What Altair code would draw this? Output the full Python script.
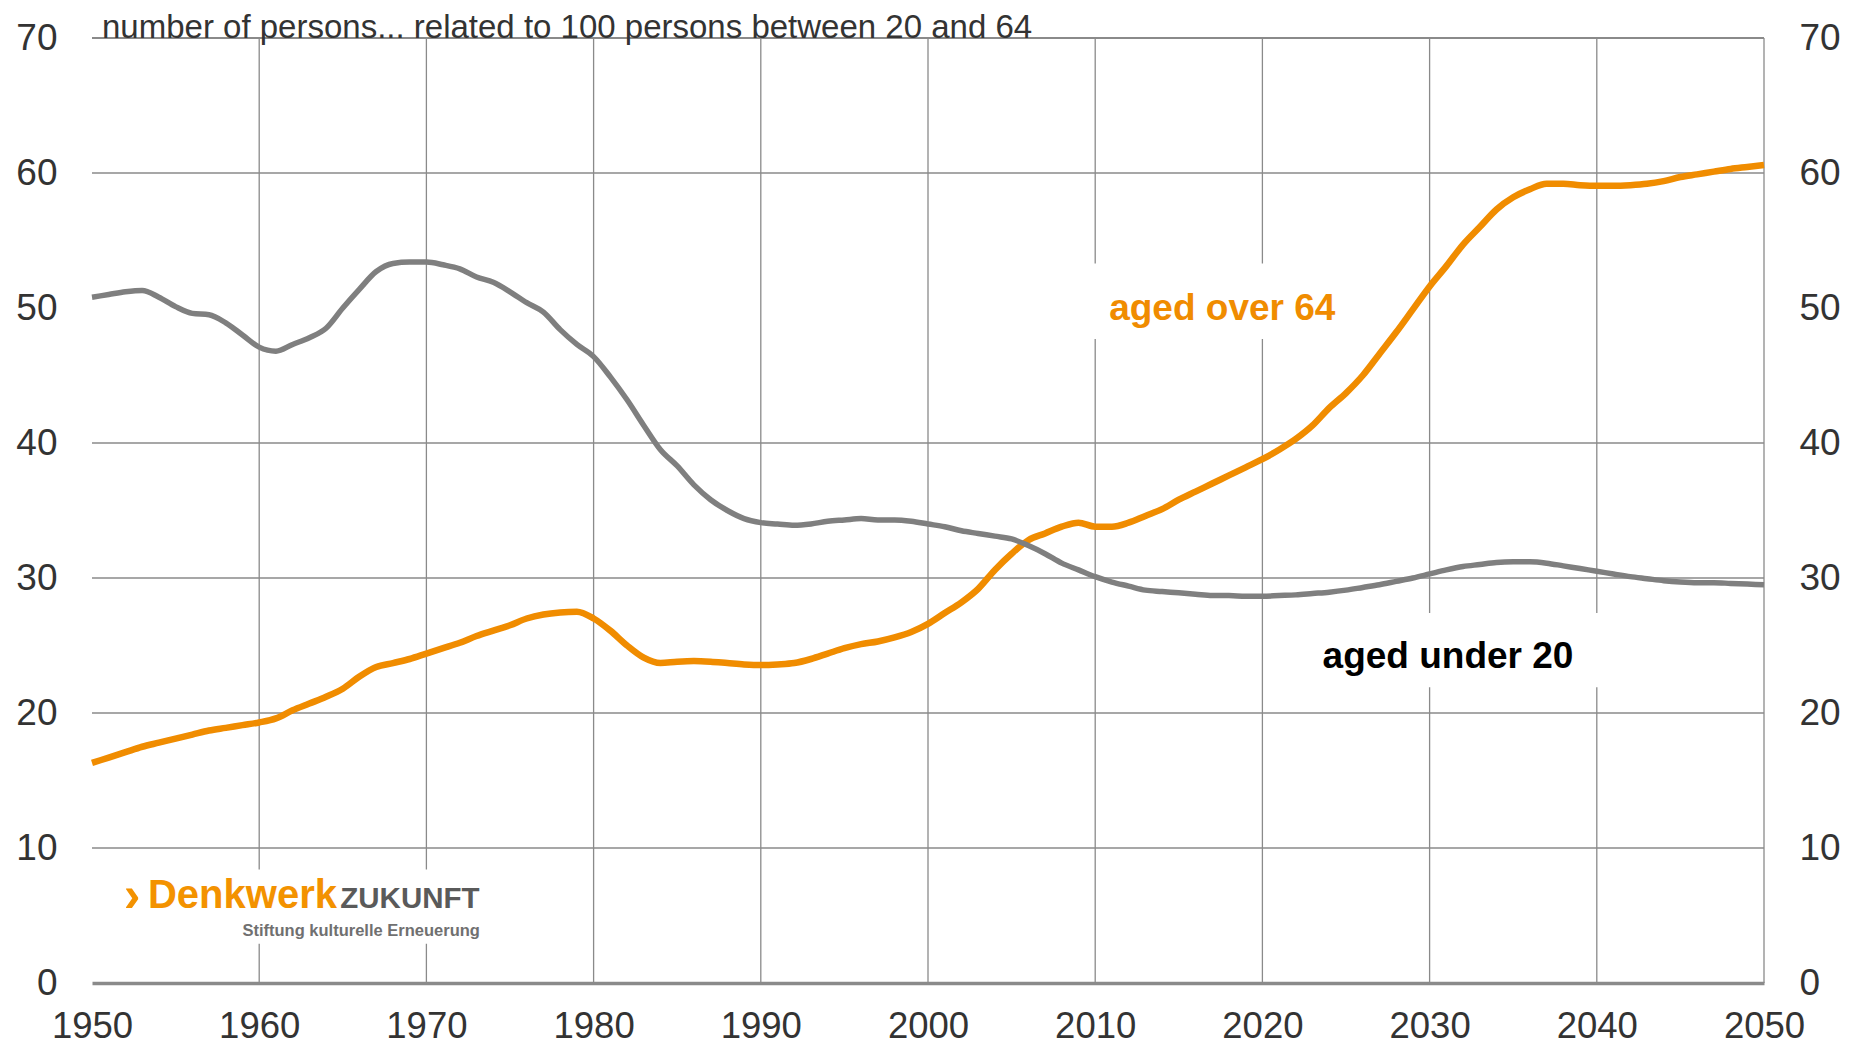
import altair as alt
import pandas as pd

# ---------------- data ----------------
years = list(range(1950, 2051))

aged_under_20 = [
    50.8, 51.0, 51.2, 51.3, 50.8, 50.1, 49.6, 49.5, 48.9, 48.0,   # 1950-1959
    47.1, 46.8, 47.3, 47.8, 48.5, 50.0, 51.4, 52.7, 53.3, 53.4,   # 1960-1969
    53.4, 53.2, 52.9, 52.3, 51.9, 51.2, 50.4, 49.7, 48.4, 47.3,   # 1970-1979
    46.4, 44.9, 43.2, 41.3, 39.5, 38.3, 36.9, 35.8, 35.0, 34.4,   # 1980-1989
    34.1, 34.0, 33.9, 34.0, 34.2, 34.3, 34.4, 34.3, 34.3, 34.2,   # 1990-1999
    34.0, 33.8, 33.5, 33.3, 33.1, 32.9, 32.4, 31.8, 31.1, 30.6,   # 2000-2009
    30.1, 29.7, 29.4, 29.1, 29.0, 28.9, 28.8, 28.7, 28.7, 28.65,  # 2010-2019
    28.65, 28.7, 28.75, 28.85, 28.95, 29.1, 29.3, 29.5, 29.75, 30.0,  # 2020-2029
    30.3, 30.6, 30.85, 31.0, 31.15, 31.2, 31.2, 31.1, 30.9, 30.7,  # 2030-2039
    30.5, 30.3, 30.1, 29.95, 29.8, 29.7, 29.65, 29.65, 29.6, 29.55,  # 2040-2049
    29.5,                                                          # 2050
]

aged_over_64 = [
    16.3, 16.7, 17.1, 17.5, 17.8, 18.1, 18.4, 18.7, 18.9, 19.1,   # 1950-1959
    19.3, 19.6, 20.2, 20.7, 21.2, 21.8, 22.7, 23.4, 23.7, 24.0,   # 1960-1969
    24.4, 24.8, 25.2, 25.7, 26.1, 26.5, 27.0, 27.3, 27.45, 27.5,  # 1970-1979
    27.0, 26.1, 25.0, 24.1, 23.7, 23.8, 23.85, 23.8, 23.7, 23.6,  # 1980-1989
    23.55, 23.6, 23.7, 24.0, 24.4, 24.8, 25.1, 25.3, 25.6, 26.0,  # 1990-1999
    26.6, 27.4, 28.2, 29.2, 30.6, 31.8, 32.8, 33.3, 33.8, 34.1,   # 2000-2009
    33.8, 33.8, 34.1, 34.6, 35.1, 35.8, 36.4, 37.0, 37.6, 38.2,   # 2010-2019
    38.8, 39.5, 40.3, 41.3, 42.6, 43.7, 45.0, 46.6, 48.2, 49.9,   # 2020-2029
    51.6, 53.1, 54.7, 56.0, 57.3, 58.2, 58.8, 59.2, 59.2, 59.1,   # 2030-2039
    59.05, 59.05, 59.1, 59.2, 59.4, 59.7, 59.9, 60.1, 60.3, 60.45,  # 2040-2049
    60.6,                                                          # 2050
]

x_ticks = list(range(1950, 2051, 10))
y_ticks = list(range(0, 71, 10))
h_grid = [10, 20, 30, 40, 60]
v_grid = list(range(1960, 2051, 10))

series_names = ["aged under 20", "aged over 64"]
title_text = "number of persons... related to 100 persons between 20 and 64"

# white boxes behind the annotations (data units)
boxes = pd.DataFrame({
    "x0": [2009.7, 2022.8, 1951.4],
    "x1": [2025.2, 2040.5, 1973.8],
    "y0": [47.7, 21.9, 2.9],
    "y1": [53.3, 27.4, 8.4],
})

# ---------------- chart ----------------
FONT = "Liberation Sans"
xs = alt.Scale(domain=[1950, 2050], nice=False, zero=False)
ys = alt.Scale(domain=[0, 70], nice=False)

df = pd.DataFrame({"year": years, "u20": aged_under_20, "o64": aged_over_64})

x_axis = alt.Axis(values=x_ticks, format="d", ticks=False, grid=False,
                  domainColor="#8a8a8a", domainWidth=3.5, labelFontSize=36.5,
                  labelColor="#333333", labelPadding=54, labelBaseline="alphabetic",
                  labelFlush=False, title=None, labelFont=FONT)
y_left = alt.Axis(values=y_ticks, orient="left", ticks=False, grid=False, domain=False,
                  labelFontSize=37, labelColor="#333333", labelPadding=35, title=None,
                  labelFont=FONT)
y_right = alt.Axis(values=y_ticks, orient="right", ticks=False, grid=False, domain=False,
                   labelFontSize=37, labelColor="#333333", labelPadding=35, title=None,
                   labelFont=FONT)

GRID = "#8a8a8a"


def X(field):
    return alt.X(field, scale=xs, axis=x_axis)


hgrid = alt.Chart(pd.DataFrame({"v": h_grid})).mark_rule(color=GRID, strokeWidth=1.3).encode(
    y=alt.Y("v:Q", scale=ys, axis=y_left)
)
vgrid = alt.Chart(pd.DataFrame({"yr": v_grid})).mark_rule(color=GRID, strokeWidth=1.3).encode(
    x=X("yr:Q")
)
top = alt.Chart(pd.DataFrame({"v": [70]})).mark_rule(color=GRID, strokeWidth=2).encode(
    y=alt.Y("v:Q", scale=ys, axis=None)
)

box_layer = alt.Chart(boxes).mark_rect(color="white").encode(
    x=X("x0:Q"), x2="x1:Q",
    y=alt.Y("y0:Q", scale=ys, axis=None), y2="y1:Q",
)

line_o = alt.Chart(df).mark_line(color="#F08C00", strokeWidth=6.5, interpolate="monotone").encode(
    x=X("year:Q"),
    y=alt.Y("o64:Q", scale=ys, axis=None),
)
line_u = alt.Chart(df).mark_line(color="#7f7f7f", strokeWidth=5.5, interpolate="monotone").encode(
    x=X("year:Q"),
    y=alt.Y("u20:Q", scale=ys, axis=y_right),
)


def label(text, x, y, size, color, weight="normal", align="left", dx=0, dy=0):
    return alt.Chart(pd.DataFrame({"t": [text], "x": [x], "y": [y]})).mark_text(
        font=FONT, fontSize=size, color=color, fontWeight=weight, align=align,
        baseline="alphabetic", dx=dx, dy=dy,
    ).encode(
        x=X("x:Q"),
        y=alt.Y("y:Q", scale=ys, axis=None),
        text="t:N",
    )


texts = [
    label(title_text, 1950, 70, 33, "#333333", dx=10, dy=0),
    label(series_names[1], 2017.6, 49.1, 37, "#F08C00", weight="bold", align="center"),
    label(series_names[0], 2031.1, 23.3, 37, "#000000", weight="bold", align="center"),
    label("\u203a", 1951.9, 5.3, 50, "#F39200", weight="bold"),
    label("Denkwerk", 1964.65, 5.56, 40, "#F39200", weight="bold", align="right"),
    label("ZUKUNFT", 1964.85, 5.56, 29.5, "#5a5a5a", weight="bold"),
    label("Stiftung kulturelle Erneuerung", 1973.2, 3.5, 16.5, "#707070", weight="bold", align="right"),
]

chart = alt.layer(hgrid, vgrid, top, box_layer, line_o, line_u, *texts).resolve_axis(
    y="independent"
).properties(
    width=1672, height=945,
    autosize=alt.AutoSizeParams(type="none"),
    padding={"left": 84, "top": 30, "right": 80, "bottom": 62},
    background="white",
).configure_view(stroke=None)

chart.save("out.html", embed_options={"renderer": "svg", "actions": False})
